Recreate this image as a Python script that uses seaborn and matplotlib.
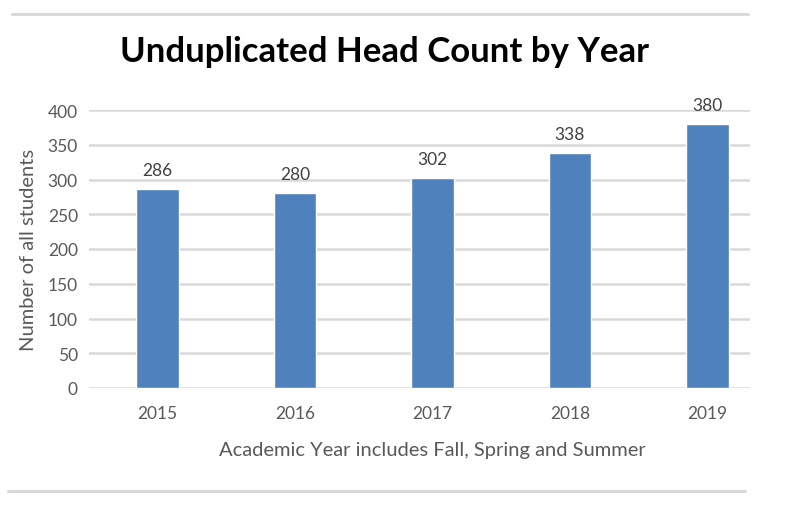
import matplotlib
matplotlib.use('Agg')
import matplotlib.pyplot as plt
import seaborn as sns
import pandas as pd
from matplotlib.lines import Line2D

# chart data
years = ['2015', '2016', '2017', '2018', '2019']
head_counts = [286, 280, 302, 338, 380]
y_ticks = [0, 50, 100, 150, 200, 250, 300, 350, 400]

sns.set_theme(style='white')
plt.rcParams['font.family'] = ['Lato', 'DejaVu Sans']

df = pd.DataFrame({'year': years, 'count': head_counts})

fig = plt.figure(figsize=(7.91, 5.10), dpi=100)
ax = fig.add_axes([89 / 791, 1 - 389 / 510, (750 - 89) / 791, (389 - 111) / 510])

sns.barplot(data=df, x='year', y='count', color='#4F81BD', saturation=1,
            width=0.31, ax=ax, zorder=3)

ax.set_ylim(0, 400)
ax.set_xlim(-0.5, 4.31)
ax.set_yticks(y_ticks)
ax.yaxis.grid(True, color='#D9D9D9', linewidth=1.8, zorder=0)
ax.set_axisbelow(True)
for s in ax.spines.values():
    s.set_visible(False)
ax.tick_params(axis='both', length=0, labelsize=12.5, colors='#595959')
ax.tick_params(axis='x', pad=12)
ax.tick_params(axis='y', pad=8)

for bar, val in zip(ax.patches, head_counts):
    ax.annotate(str(val), (bar.get_x() + bar.get_width() / 2, val),
                xytext=(0, 8), textcoords='offset points',
                ha='center', va='bottom', fontsize=12.5, color='#404040')

ax.set_xlabel('Academic Year includes Fall, Spring and Summer',
              fontsize=14.5, color='#595959')
ax.xaxis.set_label_coords(0.519, -0.19)
ax.set_ylabel('Number of all students', fontsize=14.5, color='#595959',
              labelpad=8)

fig.text(385 / 791, 1 - 52 / 510, 'Unduplicated Head Count by Year',
         ha='center', va='center', fontsize=25, fontweight='bold', color='black')

# thin frame lines above and below the chart
fig.add_artist(Line2D([12 / 791, 748 / 791], [1 - 15 / 510, 1 - 15 / 510],
                      color='#D9D9D9', linewidth=2.2, transform=fig.transFigure))
fig.add_artist(Line2D([8 / 791, 745 / 791], [1 - 492 / 510, 1 - 492 / 510],
                      color='#D9D9D9', linewidth=2.2, transform=fig.transFigure))

fig.savefig('out.png', dpi=100)
plt.close(fig)
